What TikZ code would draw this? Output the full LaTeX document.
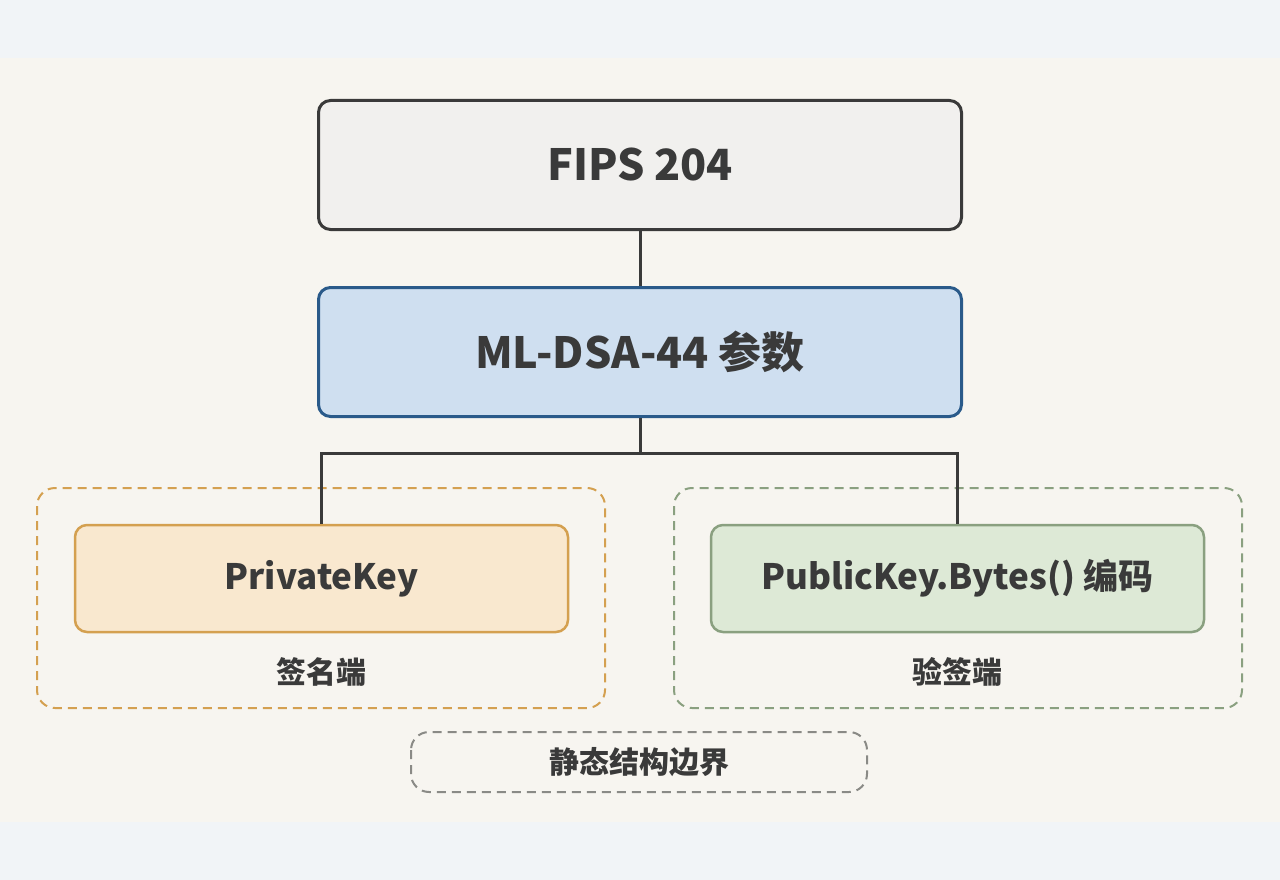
\documentclass[tikz,border=0pt]{standalone}
\usepackage{fontspec}
\setmainfont{Noto Sans CJK SC}
\usetikzlibrary{positioning}
\definecolor{bgpaper}{HTML}{F7F5F0}
\definecolor{bgband}{HTML}{F1F4F7}
\definecolor{inkdark}{HTML}{3A3A3A}
\definecolor{topfill}{HTML}{F1F0EE}
\definecolor{bluefill}{HTML}{CFDFF0}
\definecolor{bluedraw}{HTML}{2A5A8A}
\definecolor{orangefill}{HTML}{F9E8CF}
\definecolor{orangedraw}{HTML}{D4A050}
\definecolor{greenfill}{HTML}{DDE9D6}
\definecolor{greendraw}{HTML}{8AA080}
\definecolor{graydash}{HTML}{8A8A86}
\tikzset{
  box/.style={draw=inkdark, line width=3pt, rounded corners=12pt, text=inkdark,
    minimum width=643pt, minimum height=129pt, font=\bfseries\fontsize{43}{50}\selectfont},
  keybox/.style={box, minimum width=493pt, minimum height=107pt, line width=2.5pt,
    font=\bfseries\fontsize{35}{42}\selectfont},
  group/.style={dashed, line width=2pt, rounded corners=18pt, dash pattern=on 9pt off 6pt},
  side/.style={text=inkdark, font=\bfseries\fontsize{30}{36}\selectfont},
  link/.style={draw=inkdark, line width=3pt}
}
\begin{document}
\begin{tikzpicture}[x=1pt,y=-1pt]
	\fill[bgpaper] (0,0) rectangle (1280,880);
	\useasboundingbox (0,0) rectangle (1280,880);
	\fill[bgband] (0,0) rectangle (1280,58);
	\fill[bgband] (0,822) rectangle (1280,880);

	% groups
	\draw[group, draw=orangedraw] (37,488) rectangle (605,708);
	\draw[group, draw=greendraw] (674,488) rectangle (1242,708);
	\draw[group, draw=graydash] (411,732) rectangle (867,792);

	\node[box, fill=topfill] (fips) at (640,165) {FIPS 204};
	\node[box, fill=bluefill, draw=bluedraw] (mldsa) at (640,352) {ML-DSA-44 参数};
	\node[keybox, fill=orangefill, draw=orangedraw] (priv) at (321.5,578.5) {PrivateKey};
	\node[keybox, fill=greenfill, draw=greendraw] (pub) at (957.5,578.5) {PublicKey.Bytes() 编码};

	\node[side] (signer) at (321.5,672) {签名端};
	\node[side] (verifier) at (957.5,672) {验签端};
	\node[side] (bound) at (639,762) {静态结构边界};

	\coordinate (jn) at (640,453);
	\path[link] (fips.south) -- (mldsa.north);
	\path[link] (mldsa.south) -- (jn);
	\path[link] (jn) -| (priv.north);
	\path[link] (jn) -| (pub.north);
\end{tikzpicture}
\end{document}
